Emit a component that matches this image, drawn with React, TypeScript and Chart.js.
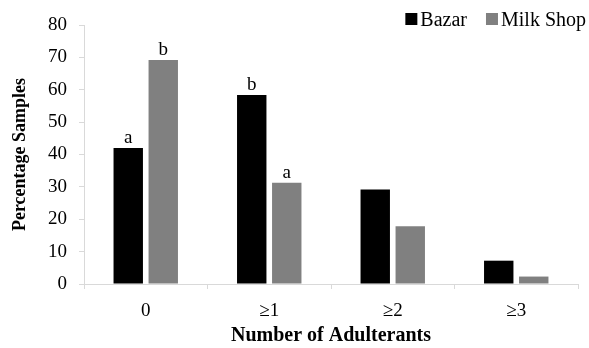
import React, { useEffect, useRef } from "react";
import { Chart, registerables } from "chart.js";

Chart.register(...registerables);

const categories = ["0", "≥1", "≥2", "≥3"];
const bazarValues = [42.0, 58.4, 29.2, 7.2];
const milkShopValues = [69.2, 31.3, 17.8, 2.3];
const bazarLetters = ["a", "b", "", ""];
const milkShopLetters = ["b", "a", "", ""];
const seriesNames = ["Bazar", "Milk Shop"];
const seriesColors = ["#000000", "#808080"];
const yTitle = "Percentage Samples";
const xTitle = "Number of Adulterants";

const FONT = '"Liberation Serif", "Times New Roman", serif';

const lettersPlugin = {
  id: "sigLetters",
  afterDatasetsDraw(chart: any) {
    const ctx = chart.ctx;
    ctx.save();
    ctx.font = `19px ${FONT}`;
    ctx.fillStyle = "#000";
    ctx.textAlign = "center";
    ctx.textBaseline = "alphabetic";
    chart.data.datasets.forEach((ds: any, i: number) => {
      const meta = chart.getDatasetMeta(i);
      meta.data.forEach((el: any, j: number) => {
        const t = ds.letters ? ds.letters[j] : "";
        if (t) ctx.fillText(t, el.x, el.y - 5);
      });
    });
    ctx.restore();
  },
};

const legendPlugin = {
  id: "customLegend",
  afterDraw(chart: any) {
    const ctx = chart.ctx;
    ctx.save();
    ctx.font = `20px ${FONT}`;
    ctx.textBaseline = "alphabetic";
    ctx.textAlign = "left";
    const box = 12;
    const boxGap = 3;
    const itemGap = 19;
    const rightEdge = 586;
    const baseline = 26;
    const items = chart.data.datasets.map((ds: any) => ({
      label: ds.label,
      color: ds.backgroundColor,
      w: ctx.measureText(ds.label).width,
    }));
    let total = 0;
    items.forEach((it: any, i: number) => {
      total += box + boxGap + it.w + (i < items.length - 1 ? itemGap : 0);
    });
    let x = rightEdge - total;
    items.forEach((it: any) => {
      ctx.fillStyle = it.color;
      ctx.fillRect(x, baseline - box - 1, box, box);
      ctx.fillStyle = "#000";
      ctx.fillText(it.label, x + box + boxGap, baseline);
      x += box + boxGap + it.w + itemGap;
    });
    ctx.restore();
  },
};

export default function App() {
  const ref = useRef<HTMLCanvasElement | null>(null);
  useEffect(() => {
    if (!ref.current) return;
    const chart = new Chart(ref.current, {
      type: "bar",
      data: {
        labels: categories,
        datasets: [
          {
            label: seriesNames[0],
            data: bazarValues,
            backgroundColor: seriesColors[0],
            letters: bazarLetters,
            categoryPercentage: 0.567,
            barPercentage: 0.84,
          } as any,
          {
            label: seriesNames[1],
            data: milkShopValues,
            backgroundColor: seriesColors[1],
            letters: milkShopLetters,
            categoryPercentage: 0.567,
            barPercentage: 0.84,
          } as any,
        ],
      },
      options: {
        responsive: false,
        animation: false,
        layout: { padding: { top: 25, right: 11, left: 0, bottom: 0 } },
        plugins: {
          legend: { display: false },
          tooltip: { enabled: false },
        },
        scales: {
          x: {
            grid: {
              display: true,
              drawOnChartArea: false,
              drawTicks: true,
              tickLength: 5,
              color: "#d9d9d9",
              offset: true,
            },
            border: { display: true, color: "#d9d9d9" },
            ticks: {
              color: "#000",
              font: { family: FONT, size: 19 },
              padding: 11,
              maxRotation: 0,
            },
            title: {
              display: true,
              text: xTitle,
              color: "#000",
              font: { family: FONT, size: 20, weight: "bold" },
              padding: { top: 0, bottom: 0 },
            },
            afterFit: (s: any) => {
              s.height = 64;
            },
          },
          y: {
            min: 0,
            max: 80,
            ticks: {
              stepSize: 10,
              color: "#000",
              font: { family: FONT, size: 19 },
              padding: 12,
            },
            grid: {
              display: true,
              drawOnChartArea: false,
              drawTicks: true,
              tickLength: 5,
              color: "#d9d9d9",
            },
            border: { display: true, color: "#d9d9d9" },
            title: {
              display: true,
              text: yTitle,
              color: "#000",
              font: { family: FONT, size: 18, weight: "bold" },
              padding: { top: 10, bottom: 0 },
            },
            afterFit: (s: any) => {
              s.width = 84;
            },
          },
        },
      } as any,
      plugins: [lettersPlugin, legendPlugin],
    });
    return () => chart.destroy();
  }, []);
  return (
    <div style={{ position: "absolute", left: 0, top: 0, width: 589, height: 348, background: "#fff" }}>
      <canvas ref={ref} width={589} height={348} style={{ display: "block" }} />
    </div>
  );
}
